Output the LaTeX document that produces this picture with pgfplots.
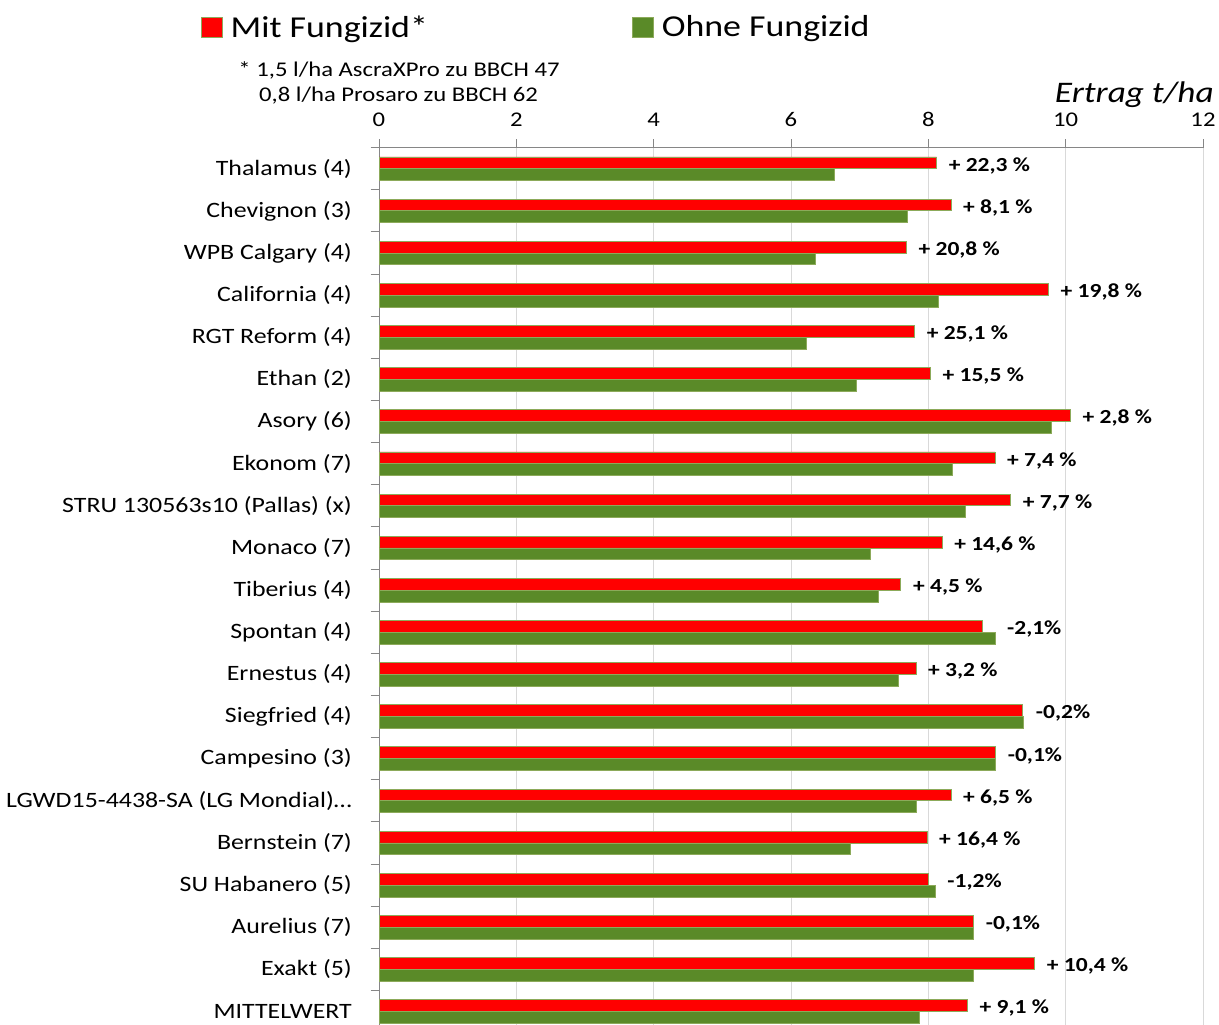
\documentclass[border=0pt]{standalone}
\usepackage{fontspec}
\setmainfont{Carlito}[FakeStretch=1.18]
\usepackage{pgfplots}
\pgfplotsset{compat=1.18}
\definecolor{cred}{HTML}{FF0000}
\definecolor{cgreen}{HTML}{5A8A28}
\definecolor{cedge}{HTML}{8CAA5A}
\definecolor{caxis}{HTML}{868686}
\definecolor{cgrid}{HTML}{D9D9D9}
\begin{document}
\begin{tikzpicture}
\path[use as bounding box] (0,0) rectangle (1219bp,1025bp);
\begin{axis}[
  at={(379bp,0bp)}, anchor=south west,
  scale only axis, width=824bp, height=877.3bp,
  clip=false,
  xmin=0, xmax=12, ymin=-0.32, ymax=20.5,
  axis x line*=top, axis y line*=left,
  axis line style={caxis, line width=1bp},
  xtick={0,2,...,12},
  xmajorgrids, grid style={cgrid, line width=1bp},
  tick align=outside, major tick length=8.5bp,
  tick style={caxis, line width=1bp},
  /pgf/number format/assume math mode=true,
  xticklabel style={font=\fontsize{21}{25}\selectfont, yshift=9bp},
  ytick={-0.5,0.5,...,20.5}, yticklabels={},
  extra y ticks={0,...,20},
  extra y tick labels={MITTELWERT, Exakt (5), Aurelius (7), SU Habanero (5), Bernstein (7), LGWD15-4438-SA (LG Mondial)…, Campesino (3), Siegfried (4), Ernestus (4), Spontan (4), Tiberius (4), Monaco (7), STRU 130563s10 (Pallas) (x), Ekonom (7), Asory (6), Ethan (2), RGT Reform (4), California (4), WPB Calgary (4), Chevignon (3), Thalamus (4)},
  extra y tick style={major tick length=0pt, yticklabel style={font=\fontsize{22}{26}\selectfont, anchor=east, inner sep=0pt, xshift=-27bp}},
  legend columns=2,
  legend style={at={(axis description cs:-0.2164,1.1375)}, anchor=west, draw=none, fill=none, inner sep=0pt,
    font=\fontsize{30.5}{36}\selectfont, nodes={inner sep=0pt},
    /tikz/every even column/.append style={column sep=204bp},
    /tikz/every odd column/.append style={column sep=8bp}},
  legend image code/.code={\draw[#1, line width=0.8bp] (0bp,-10bp) rectangle (21bp,10bp);},
]
\addplot[xbar, bar width=0.28, bar shift=0.14, fill=cred, draw=cedge, line width=0.8bp]
coordinates {(8.12,20) (8.33,19) (7.68,18) (9.75,17) (7.80,16) (8.03,15) (10.07,14) (8.97,13) (9.20,12) (8.20,11) (7.60,10) (8.78,9) (7.82,8) (9.37,7) (8.97,6) (8.33,5) (7.98,4) (8.00,3) (8.65,2) (9.55,1) (8.57,0)};
\addlegendentry{Mit Fungizid*}
\addplot[xbar, bar width=0.28, bar shift=-0.14, fill=cgreen, draw=cedge, line width=0.8bp]
coordinates {(6.63,20) (7.70,19) (6.35,18) (8.14,17) (6.23,16) (6.95,15) (9.79,14) (8.35,13) (8.54,12) (7.15,11) (7.27,10) (8.97,9) (7.57,8) (9.39,7) (8.98,6) (7.82,5) (6.86,4) (8.10,3) (8.66,2) (8.65,1) (7.87,0)};
\addlegendentry{Ohne Fungizid}
\addplot[xbar, bar width=0.28, bar shift=0.14, draw=none, fill=none, forget plot,
  point meta=explicit symbolic, nodes near coords,
  nodes near coords style={anchor=mid west, inner sep=0pt, xshift=12bp, font=\bfseries\fontsize{20}{24}\selectfont, text=black}]
coordinates {(8.12,20) [+ 22,3 \%] (8.33,19) [+ 8,1 \%] (7.68,18) [+ 20,8 \%] (9.75,17) [+ 19,8 \%] (7.80,16) [+ 25,1 \%] (8.03,15) [+ 15,5 \%] (10.07,14) [+ 2,8 \%] (8.97,13) [+ 7,4 \%] (9.20,12) [+ 7,7 \%] (8.20,11) [+ 14,6 \%] (7.60,10) [+ 4,5 \%] (8.97,9) [-2,1\%] (7.82,8) [+ 3,2 \%] (9.39,7) [-0,2\%] (8.98,6) [-0,1\%] (8.33,5) [+ 6,5 \%] (7.98,4) [+ 16,4 \%] (8.10,3) [-1,2\%] (8.66,2) [-0,1\%] (9.55,1) [+ 10,4 \%] (8.57,0) [+ 9,1 \%]};
\node[anchor=base, font=\fontsize{21}{25}\selectfont, inner sep=0pt] at (axis description cs:0.0243,1.0806) {* 1,5 l/ha AscraXPro zu BBCH 47};
\node[anchor=base, font=\fontsize{21}{25}\selectfont, inner sep=0pt] at (axis description cs:0.0237,1.0521) {0,8 l/ha Prosaro zu BBCH 62};
\node[anchor=base east, font=\itshape\fontsize{30}{35}\selectfont, inner sep=0pt] at (axis description cs:1.0133,1.0518) {Ertrag t/ha};
\end{axis}
\end{tikzpicture}
\end{document}
